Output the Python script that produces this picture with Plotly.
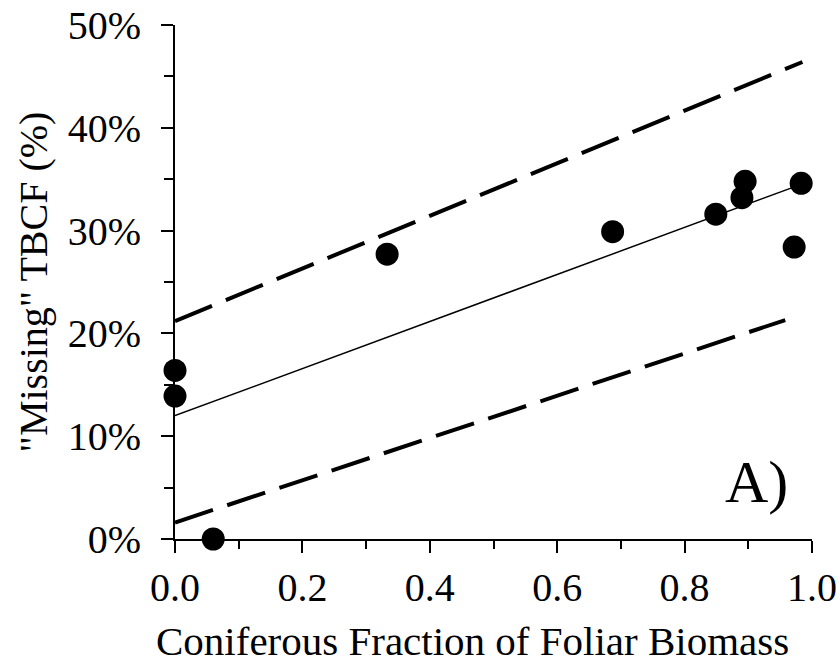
import plotly.graph_objects as go

# Data
conif_frac = [0.0, 0.0, 0.060, 0.333, 0.687, 0.849, 0.890, 0.895, 0.983, 0.972]
missing_tbcf = [0.164, 0.139, 0.000, 0.277, 0.299, 0.316, 0.332, 0.348, 0.346, 0.284]

fit_x = [0.0, 0.983]
fit_y = [0.120, 0.345]
upper_x = [0.0, 0.985]
upper_y = [0.212, 0.464]
lower_x = [0.0, 0.958]
lower_y = [0.016, 0.213]

x_title = "Coniferous Fraction of Foliar Biomass"
y_title = "\"Missing\" TBCF (%)"
panel_label = "A)"

FONT = "Liberation Serif, Times New Roman, serif"

fig = go.Figure()
fig.add_trace(go.Scatter(x=upper_x, y=upper_y, mode="lines",
                         line=dict(color="black", width=4, dash="40px,15px"),
                         showlegend=False, hoverinfo="skip"))
fig.add_trace(go.Scatter(x=lower_x, y=lower_y, mode="lines",
                         line=dict(color="black", width=4, dash="40px,15px"),
                         showlegend=False, hoverinfo="skip"))
fig.add_trace(go.Scatter(x=fit_x, y=fit_y, mode="lines",
                         line=dict(color="black", width=1.5),
                         showlegend=False, hoverinfo="skip"))
fig.add_trace(go.Scatter(x=conif_frac, y=missing_tbcf, mode="markers",
                         marker=dict(color="black", size=23),
                         cliponaxis=False, showlegend=False))

fig.add_annotation(text=panel_label, x=0.966, y=0.055, xref="x", yref="y",
                   xanchor="right", yanchor="middle", showarrow=False,
                   font=dict(family=FONT, size=60, color="black"))

fig.add_annotation(text=x_title, x=0.467, y=0, xref="paper", yref="paper",
                   xanchor="center", yanchor="top", yshift=-77, showarrow=False,
                   font=dict(family=FONT, size=41, color="black"))

fig.update_layout(
    width=840, height=664,
    margin=dict(l=175, r=28, t=25, b=125, autoexpand=False),
    paper_bgcolor="white", plot_bgcolor="white",
    font=dict(family=FONT, size=40, color="black"),
    xaxis=dict(range=[0, 1], dtick=0.2, tickformat=".1f", automargin=False,
               showline=True, linecolor="black", linewidth=2,
               ticks="outside", ticklen=12, tickwidth=2, tickcolor="black",
               minor=dict(dtick=0.1, ticks="outside", ticklen=8, tickwidth=2, tickcolor="black"),
               showgrid=False, zeroline=False, layer="below traces"),
    yaxis=dict(range=[0, 0.5], dtick=0.1, tickformat=".0%", automargin=False,
               showline=True, linecolor="black", linewidth=2,
               ticks="outside", ticklen=12, tickwidth=2, tickcolor="black",
               ticklabelstandoff=12,
               minor=dict(dtick=0.05, ticks="outside", ticklen=9, tickwidth=2, tickcolor="black"),
               showgrid=False, zeroline=False, layer="below traces",
               title=dict(text=y_title, font=dict(family=FONT, size=40), standoff=8)),
)

fig.write_html("out.html")
